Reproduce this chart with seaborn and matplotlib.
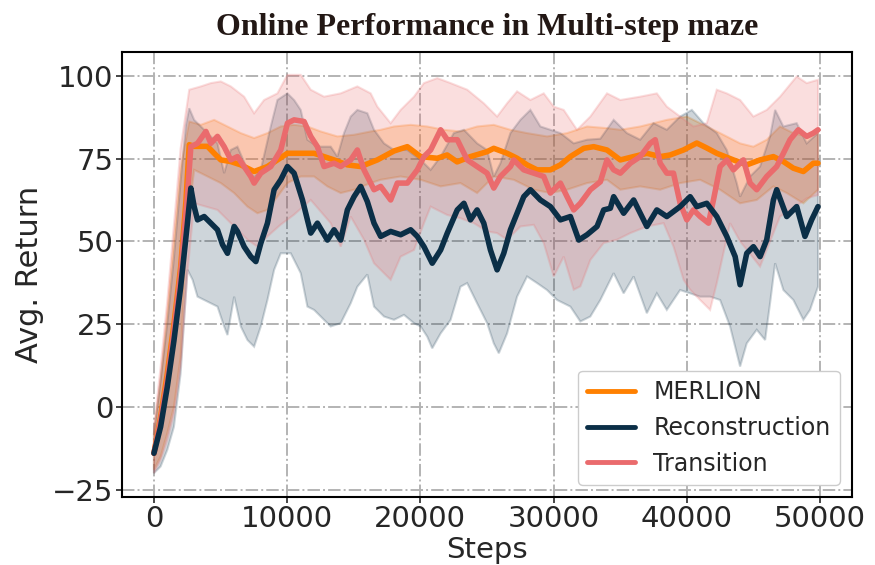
import numpy as np
import seaborn as sns
import matplotlib
matplotlib.use("Agg")
import matplotlib.pyplot as plt

# ---- data ----
merlion_steps = [0, 500, 1000, 1500, 2000, 2400, 2650, 3020, 4020, 4520, 5020, 5770, 6520, 7520, 8520,
                 9270, 10020, 11020, 12020, 12770, 13520, 14520, 15520, 16770, 18020, 19020, 20015,
                 21270, 22010, 22760, 23760, 25010, 25510, 26510, 27260, 28010, 28760, 29760, 30510,
                 31260, 32260, 33010, 34010, 35010, 36000, 37000, 38000, 38750, 39750, 40750, 41500,
                 42250, 43500, 44500, 45500, 46500, 47250, 48000, 48750, 49500, 49850]
merlion_mean = [-14, -3, 10, 25, 42, 62, 79.2, 78.7, 78.7, 76.6, 74.6, 74.1, 73.1, 71.1, 72.6,
                74.6, 76.6, 76.6, 76.6, 75.6, 74.6, 73.1, 72.6, 74.6, 77.3, 78.6, 75.6,
                75.1, 76.1, 74.0, 75.6, 77.1, 78.1, 76.6, 75.1, 73.1, 71.6, 71.6, 73.1,
                75.6, 78.1, 78.6, 77.6, 74.6, 75.6, 76.6, 75.6, 76.1, 77.6, 79.7, 78.2,
                76.6, 74.6, 73.1, 74.6, 75.6, 74.1, 72.1, 71.1, 73.6, 73.6]
merlion_hi_steps = [0, 500, 1000, 1500, 2000, 2650, 3520, 4520, 5520, 6520, 7520, 8520, 9520, 10520,
                    11520, 12520, 13770, 15020, 16270, 17020, 18020, 19270, 20510, 21770, 23010,
                    24260, 25510, 26760, 28010, 29510, 31010, 32510, 34010, 35010, 36500, 38500,
                    40000, 41000, 42500, 44000, 45000, 46000, 47000, 48000, 49000, 49850]
merlion_hi = [-8, 8, 28, 50, 72, 86.2, 85.2, 86.7, 84.7, 82.7, 81.2, 82.7, 84.7, 85.2,
              84.7, 83.2, 81.7, 82.2, 83.2, 83.7, 84.7, 85.2, 84.7, 83.7, 83.2,
              84.7, 85.2, 83.7, 82.7, 81.7, 82.7, 84.7, 84.2, 83.7, 84.7, 86.7,
              87.7, 85.7, 82.7, 79.6, 78.6, 80.7, 84.7, 82.7, 81.7, 82.7]
merlion_lo_steps = [0, 500, 1000, 1500, 2000, 2500, 3020, 4020, 5020, 6020, 7020, 7770, 8520, 9270,
                    10020, 11020, 12020, 13020, 14020, 15020, 16270, 17020, 18520, 20020, 21520,
                    23010, 24260, 25510, 27010, 28510, 29760, 31010, 32510, 34010, 35010, 36500,
                    38000, 39500, 41000, 42500, 44000, 45250, 46500, 47500, 48750, 49850]
merlion_lo = [-19, -15, -8, 0, 15, 55, 71.6, 69.6, 67.6, 64.6, 60.5, 58.5, 59.5, 63.5,
              67.6, 69.6, 69.6, 66.6, 64.6, 65.6, 67.6, 68.6, 69.6, 68.6, 66.6,
              67.6, 64.6, 69.6, 68.6, 65.6, 64.6, 65.6, 67.6, 68.6, 65.6, 66.6,
              65.6, 67.6, 68.6, 65.6, 61.5, 62.5, 66.6, 64.6, 61.5, 65.6]

recon_steps = [0, 500, 1000, 1500, 2000, 2500, 2770, 3020, 3270, 3770, 4270, 4770, 5150, 5520, 6020,
               6270, 6770, 7270, 7650, 8020, 8520, 9020, 9520, 10020, 10520, 11150, 11520, 11770,
               12270, 13020, 13520, 14020, 14520, 15020, 15520, 16020, 16520, 17020, 17770, 18520,
               19270, 19770, 20270, 20890, 21520, 22020, 22770, 23270, 23760, 24260, 24760, 25260,
               25760, 26260, 26760, 27260, 27760, 28260, 29010, 29760, 30510, 31260, 31890, 32510,
               33260, 33760, 34260, 34510, 35260, 36010, 37000, 37750, 38500, 39500, 40250, 40750,
               41500, 42250, 43000, 43630, 44000, 44500, 45000, 45500, 46000, 46500, 46750, 47500,
               48250, 48870, 49370, 49850]
recon_mean = [-14, -6, 6, 20, 36, 55, 66.1, 60.5, 56.5, 57.5, 55.5, 53.5, 49, 46.4, 54.5,
              53, 48.4, 45.4, 43.9, 49.4, 55.5, 65.6, 68.6, 72.6, 70.6, 62.5, 56.5, 52.5,
              55.5, 50.4, 53.5, 50.4, 59.5, 63.5, 66.6, 62, 55.5, 51.5, 53, 52,
              53.5, 51.5, 48.4, 43.4, 47.4, 52.5, 59.5, 61.5, 56.5, 59.5, 55.5, 47.4,
              41.4, 46.4, 53.5, 58.5, 63.5, 65.6, 62.5, 60.5, 56.5, 57.5, 50.4, 52,
              54.5, 59.5, 60, 63.5, 58.5, 62.5, 54.5, 59.5, 57.5, 60.5, 63.5, 60.5,
              61.5, 57.5, 51.5, 45.4, 36.9, 46.4, 48.4, 45.4, 50.5, 62.5, 65.6, 57.5,
              60.5, 51.5, 56.5, 60.5]
recon_hi_steps = [0, 500, 1000, 1500, 2000, 2400, 2650, 3020, 3520, 4020, 4770, 5270, 5770, 6270,
                  7020, 7520, 8020, 8770, 9270, 10020, 10520, 11020, 11520, 12270, 13270, 13770,
                  14270, 14770, 15270, 16020, 16520, 17270, 18020, 19020, 20020, 20770, 21520,
                  22510, 23270, 24260, 25010, 25510, 26010, 26760, 27510, 28260, 29010, 29760,
                  30510, 31510, 32510, 33510, 34510, 35500, 36500, 37500, 38500, 39500, 40380,
                  41250, 42250, 43000, 43750, 44000, 44750, 45500, 46250, 46630, 47250, 48250,
                  49000, 49850]
recon_hi = [-8, 8, 25, 45, 68, 85, 90.2, 86.7, 84.7, 82.7, 79.6, 70.6, 77.6, 78.6,
            71.6, 69.6, 71.6, 84.7, 92.7, 94.7, 92.7, 89.7, 80.7, 78.6, 78.6, 75.6,
            82.7, 87.7, 89.7, 88.7, 83.7, 79.6, 77.6, 77.6, 74.6, 71.6, 75.6,
            82.7, 83.7, 79.6, 77.6, 69.6, 73.6, 82.7, 86.7, 89.7, 84.7, 83.7,
            82.7, 79.6, 80.7, 81, 86.7, 82.7, 80.7, 85.7, 83.7, 87.7, 89.7,
            85.7, 82.7, 77.6, 67.6, 63.5, 69.6, 72.6, 81.7, 89.7, 84.7, 85.7,
            79.6, 82.7]
recon_lo_steps = [0, 500, 1000, 1500, 2000, 2520, 2900, 3270, 3770, 4270, 4770, 5270, 5520, 6020,
                  6520, 7020, 7520, 8020, 8520, 9020, 9520, 10270, 11020, 11520, 12020, 12520,
                  13270, 14020, 14770, 15270, 16020, 16520, 17270, 18020, 18770, 19520, 20020,
                  20520, 20890, 21520, 22270, 23010, 23510, 24260, 25010, 25510, 25890, 26510,
                  27260, 28010, 28760, 29510, 30260, 31260, 32010, 32760, 33510, 34510, 35260,
                  36010, 37000, 37750, 38500, 39500, 40250, 41000, 41750, 42500, 43250, 44000,
                  44500, 45250, 45880, 46250, 46630, 47250, 48000, 48750, 49250, 49850]
recon_lo = [-20, -18, -13, -6, 10, 41.4, 38.4, 33.3, 32.3, 31.3, 30.3, 24.3, 21.7, 33.3,
            24.3, 20.2, 18.2, 24.3, 32.3, 41.4, 46.4, 46.4, 40.4, 30.3, 29.3, 27.3,
            24.3, 25.3, 31.3, 36.3, 40, 30.3, 27.3, 26.3, 27.8, 25.3, 24.3,
            21.2, 17.7, 22.2, 26.3, 36.3, 37.4, 31.3, 25.3, 19.2, 16.2, 22.2,
            33.3, 39.4, 37.4, 35.3, 32.3, 30.3, 25.8, 27.3, 32.3, 40.4, 34.3,
            39.4, 28.3, 34.3, 29.3, 35.3, 34.3, 33.3, 33.3, 32.3, 24.3, 12.2,
            19.2, 23.3, 20.2, 31.3, 43.4, 35.3, 32.3, 26.3, 29.3, 36.3]

trans_steps = [0, 500, 1000, 1500, 2000, 2500, 2770, 3270, 3900, 4270, 4770, 5270, 5770, 6270, 6770,
               7270, 7520, 8020, 8770, 9520, 10020, 10520, 11270, 11770, 12270, 12770, 13520, 14020,
               14770, 15270, 15770, 16270, 16520, 17020, 17770, 18270, 19020, 19770, 20270, 20770,
               21520, 22020, 22770, 23520, 24260, 25010, 25510, 26010, 26760, 27010, 27760, 28510,
               29260, 29760, 30510, 31010, 31510, 32010, 32760, 33510, 34010, 34510, 35010, 35760,
               36500, 37250, 37630, 38000, 38500, 39000, 39500, 40000, 40500, 41000, 41630, 42000,
               42500, 43000, 43500, 44250, 44750, 45250, 46000, 46750, 47250, 47750, 48370, 49000,
               49500, 49850]
trans_mean = [-14, -4, 8, 23, 40, 63, 78.6, 79.6, 83.2, 79.6, 81.7, 78.6, 74.6, 75.6, 72.6,
              69.6, 67.6, 70.6, 72.6, 77.6, 85.7, 86.7, 86.2, 81.7, 78.6, 72.6, 73.6, 72.6,
              74.6, 77.6, 71.6, 67.6, 65.6, 66.6, 62.5, 67.6, 67.6, 71.6, 75.6, 77.6,
              83.7, 80.7, 80.7, 74.6, 72.6, 70.6, 66.1, 69.6, 72.6, 74.6, 71.6, 70.6,
              69.6, 64.6, 67.6, 63.5, 59.5, 61.5, 65.6, 68, 74.6, 71.6, 70.6, 73.6,
              75.6, 79.6, 80.7, 73.6, 70.6, 70.6, 61.5, 56.5, 59.5, 57.5, 55.5, 62.5,
              72.6, 74.6, 71.6, 74.6, 67.6, 65.6, 69.6, 72.6, 76.6, 80.7, 83.7, 81.7,
              82.7, 83.7]
trans_hi_steps = [0, 500, 1000, 1500, 2000, 2650, 3520, 4270, 5020, 5770, 6770, 7520, 8270, 9270,
                  10020, 11020, 11770, 12770, 14020, 15270, 16270, 16770, 17770, 18520, 19520,
                  20270, 21270, 22270, 23520, 24760, 25760, 26510, 27260, 28260, 29260, 30010,
                  30760, 31760, 32760, 34010, 35010, 36500, 37750, 38500, 39500, 40500, 41500,
                  42250, 43000, 44000, 45000, 46000, 47000, 48250, 49000, 49850]
trans_hi = [-6, 12, 32, 55, 78, 95.8, 96.8, 97.8, 98.3, 96.8, 93.7, 88.7, 92.7, 94.7,
            100.3, 100.3, 95.8, 93.7, 94.7, 96.8, 94.7, 90.7, 85.7, 89.7, 93.7,
            97.8, 99.3, 97.8, 95.8, 91.7, 87.7, 91.7, 95.3, 92.7, 94.7, 90.7,
            89.7, 83.7, 87.7, 94.7, 92.7, 93.7, 94.7, 90.7, 87.7, 84.7, 85.7,
            95.8, 94.7, 92.7, 87.7, 89.7, 93.7, 99.8, 97.8, 98.8]
trans_lo_steps = [0, 500, 1000, 1500, 2000, 2500, 3020, 4770, 6020, 7020, 7770, 8520, 9500, 10500,
                  11770, 13270, 14020, 14770, 15770, 16520, 17770, 18520, 19520, 20270, 20770,
                  22000, 23000, 24010, 25010, 25760, 26510, 27510, 28510, 29260, 30010, 30760,
                  31510, 32010, 32760, 33760, 34760, 35760, 37010, 38260, 39010, 39760, 40250,
                  41000, 41750, 42250, 43250, 44000, 45500, 46250, 47000, 48000, 49000, 49850]
trans_lo = [-20, -16, -10, -2, 12, 40, 61.5, 59.5, 54.5, 50.5, 48.4, 51.5, 55, 58,
            62.5, 55.5, 48.4, 57.5, 50.5, 43.4, 38.4, 45.4, 47.4, 55.5, 60.5,
            58, 57, 55.5, 53, 52.5, 50.5, 54.5, 55, 49.5, 39.4, 45.4,
            35.4, 36.4, 44.4, 49.5, 50.5, 52.5, 54.5, 55.5, 48.4, 38.4, 35.4,
            32.3, 29.3, 37.4, 55.5, 50, 42.4, 50, 57.5, 60, 63, 64]

labels = ["MERLION", "Reconstruction", "Transition"]
colors = ["#ff8000", "#0b2f47", "#ea6b6d"]

# ---- figure ----
sns.set_style("white")
plt.rcParams["font.family"] = ["DejaVu Sans"]

fig = plt.figure(figsize=(8.75, 5.65), dpi=100)
ax = fig.add_axes([0.1394, 0.1204, 0.8343, 0.7876])

series = [
    (merlion_steps, merlion_mean, merlion_hi_steps, merlion_hi, merlion_lo_steps, merlion_lo, 0.24),
    (recon_steps, recon_mean, recon_hi_steps, recon_hi, recon_lo_steps, recon_lo, 0.2),
    (trans_steps, trans_mean, trans_hi_steps, trans_hi, trans_lo_steps, trans_lo, 0.22),
]

# bands first
for (st, mn, hs, hi, ls, lo, a), c in zip(series, colors):
    xs = np.r_[hs, ls[::-1]]
    ys = np.r_[hi, lo[::-1]]
    ax.fill(xs, ys, facecolor=c, edgecolor=c, alpha=a, lw=1.5, zorder=2)

# lines: orange, red, then dark navy on top
lines = {}
for i in [0, 2, 1]:
    st, mn = series[i][0], series[i][1]
    sns.lineplot(x=st, y=mn, color=colors[i], lw=4, ax=ax, zorder=3)
    lines[i] = ax.lines[-1]

ax.set_xlim(-2400, 52400)
ax.set_ylim(-27.2, 107.2)
ax.set_xticks([0, 10000, 20000, 30000, 40000, 50000])
ax.set_yticks([-25, 0, 25, 50, 75, 100])
ax.grid(True, linestyle="-.", color="#b3b3b3", lw=1.4, zorder=0)
ax.set_axisbelow(True)
for s in ax.spines.values():
    s.set_color("black")
    s.set_linewidth(1.5)
ax.tick_params(labelsize=21, direction="out", length=4, width=1.2, pad=2,
               bottom=True, left=True)

ax.set_xlabel("Steps", fontsize=21, labelpad=2)
ax.set_ylabel("Avg. Return", fontsize=22, labelpad=6)
ax.set_title("Online Performance in Multi-step maze", fontsize=23, fontweight="bold",
             family="Liberation Serif", color="#231815", pad=12)

leg = ax.legend([lines[0], lines[1], lines[2]], labels, loc="lower right", fontsize=17,
                frameon=True, fancybox=True, edgecolor="#cccccc", framealpha=1,
                handlelength=2.0, borderaxespad=0.5)
for h in leg.get_lines():
    h.set_linewidth(3.5)

plt.savefig("out.png", dpi=100)
